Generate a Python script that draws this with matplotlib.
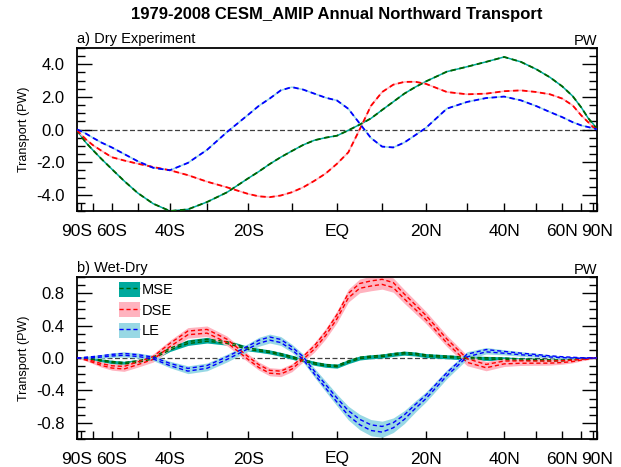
import numpy as np
import matplotlib
matplotlib.use('Agg')
import matplotlib.pyplot as plt
from matplotlib.patches import Patch
from matplotlib.lines import Line2D

plt.rcParams['font.family'] = ['Liberation Sans', 'DejaVu Sans']
plt.rcParams['axes.unicode_minus'] = False

# latitudes (deg)
lat = [-90, -85, -80, -75, -70, -65, -60, -55, -50, -45, -40, -35, -30, -25, -20,
       -17.5, -15, -12.5, -10, -7.5, -5, -2.5, 0, 2.5, 5, 7.5, 10, 12.5, 15, 17.5,
       20, 25, 30, 35, 40, 45, 50, 55, 60, 65, 70, 75, 80, 85, 90]

# a) Dry experiment (PW)
dry_mse = [0, -0.12, -0.4, -0.8, -1.25, -1.8, -2.43, -3.15, -3.9, -4.55, -5.0, -4.9, -4.45, -3.85, -3.0,
           -2.58, -2.12, -1.7, -1.32, -0.95, -0.66, -0.5, -0.38, -0.05, 0.3, 0.68, 1.2, 1.7, 2.2, 2.6,
           2.95, 3.55, 3.85, 4.15, 4.45, 4.15, 3.7, 3.2, 2.65, 2.05, 1.35, 0.7, 0.35, 0.1, 0]
dry_dse = [0, -0.1, -0.3, -0.6, -0.95, -1.3, -1.7, -1.9, -2.1, -2.3, -2.5, -2.8, -3.2, -3.55, -3.95,
           -4.1, -4.15, -4.05, -3.85, -3.55, -3.15, -2.7, -2.1, -1.4, 0.0, 1.45, 2.3, 2.75, 2.92, 2.93,
           2.8, 2.3, 2.16, 2.2, 2.35, 2.4, 2.3, 2.16, 1.9, 1.48, 0.86, 0.45, 0.15, 0.05, 0]
dry_le = [0, -0.02, -0.1, -0.25, -0.5, -0.8, -1.1, -1.5, -1.95, -2.35, -2.5, -2.05, -1.25, -0.15, 0.9,
          1.45, 1.9, 2.4, 2.6, 2.45, 2.2, 1.95, 1.78, 1.27, 0.37, -0.52, -1.05, -1.1, -0.8, -0.35,
          0.1, 1.28, 1.69, 1.93, 2.02, 1.79, 1.44, 1.07, 0.76, 0.45, 0.25, 0.15, 0.08, 0.03, 0]

# b) Wet-Dry (PW), centre and half-width of shading
wd_mse = [0, 0, 0, -0.005, -0.015, -0.03, -0.05, -0.065, -0.045, 0.0, 0.11, 0.19, 0.22, 0.19, 0.115,
          0.095, 0.075, 0.045, 0.01, -0.03, -0.065, -0.09, -0.1, -0.045, 0.0, 0.015, 0.025, 0.045, 0.06, 0.05,
          0.03, 0.015, 0.0, -0.005, -0.01, -0.02, -0.025, -0.03, -0.03, -0.02, -0.01, -0.005, 0, 0, 0]
wd_dse = [0, 0, -0.005, -0.02, -0.045, -0.08, -0.11, -0.12, -0.065, 0.0, 0.16, 0.31, 0.33, 0.21, 0.0,
          -0.1, -0.17, -0.18, -0.12, 0.0, 0.13, 0.3, 0.51, 0.77, 0.89, 0.92, 0.94, 0.9, 0.76, 0.63,
          0.5, 0.21, -0.03, -0.1, -0.055, -0.05, -0.05, -0.05, -0.045, -0.035, -0.02, -0.01, 0, 0, 0]
wd_le = [0, 0, 0, 0.005, 0.01, 0.02, 0.035, 0.045, 0.03, 0.0, -0.08, -0.145, -0.11, 0.0, 0.13,
         0.2, 0.24, 0.21, 0.12, 0.0, -0.18, -0.35, -0.52, -0.68, -0.79, -0.86, -0.88, -0.83, -0.73, -0.6,
         -0.48, -0.2, 0.03, 0.09, 0.07, 0.05, 0.035, 0.02, 0.01, 0.005, 0, 0, 0, 0, 0]
mse_sp = [0, 0.005, 0.008, 0.012, 0.015, 0.018, 0.022, 0.025, 0.028, 0.028, 0.03, 0.035, 0.035, 0.032, 0.028,
          0.025, 0.025, 0.025, 0.025, 0.025, 0.025, 0.025, 0.025, 0.025, 0.025, 0.025, 0.025, 0.025, 0.025, 0.025,
          0.025, 0.025, 0.025, 0.025, 0.025, 0.022, 0.022, 0.02, 0.018, 0.015, 0.012, 0.01, 0.006, 0.003, 0]
dse_sp = [0, 0.005, 0.01, 0.016, 0.024, 0.032, 0.04, 0.045, 0.048, 0.05, 0.058, 0.065, 0.065, 0.06, 0.05,
          0.05, 0.05, 0.05, 0.05, 0.05, 0.058, 0.065, 0.072, 0.08, 0.085, 0.09, 0.09, 0.088, 0.085, 0.08,
          0.075, 0.07, 0.065, 0.058, 0.05, 0.042, 0.04, 0.038, 0.032, 0.025, 0.016, 0.012, 0.008, 0.003, 0]
le_sp = [0, 0.005, 0.01, 0.016, 0.02, 0.024, 0.028, 0.032, 0.032, 0.032, 0.04, 0.048, 0.048, 0.048, 0.048,
         0.055, 0.055, 0.055, 0.05, 0.05, 0.055, 0.065, 0.072, 0.085, 0.095, 0.1, 0.1, 0.09, 0.08, 0.07,
         0.062, 0.055, 0.048, 0.04, 0.032, 0.028, 0.024, 0.02, 0.016, 0.012, 0.01, 0.006, 0.004, 0.002, 0]

xticks = list(range(-90, 91, 10))
xlabels = {-90: '90S', -60: '60S', -40: '40S', -20: '20S', 0: 'EQ',
           20: '20N', 40: '40N', 60: '60N', 90: '90N'}

colors = {'MSE': '#006400', 'DSE': '#ff0000', 'LE': '#0000ff'}
fills = {'MSE': '#00a99d', 'DSE': '#ffb3bf', 'LE': '#98d8e4'}
dash = (0, (3, 2))

lat = np.array(lat)


def fwd(x):
    return np.sin(np.deg2rad(x))


def inv(y):
    return np.rad2deg(np.arcsin(np.clip(y, -1, 1)))


def style_axes(ax, ylim, major, minor):
    ax.set_xscale('function', functions=(fwd, inv))
    ax.set_xlim(-90, 90)
    ax.set_ylim(*ylim)
    ax.set_xticks(xticks)
    ax.set_xticklabels([xlabels.get(t, '') for t in xticks])
    ax.set_xticks([], minor=True)
    ax.set_yticks(np.arange(-major * 2, major * 2 + 0.001, major))
    ax.set_yticks(np.arange(ylim[0], ylim[1] + 0.001, minor), minor=True)
    ax.yaxis.set_major_formatter(plt.FormatStrFormatter('%.1f'))
    ax.tick_params(axis='x', direction='in', length=6, width=1, labelsize=12.5, pad=9, top=False)
    ax.tick_params(axis='y', which='major', direction='in', length=11, width=1,
                   labelsize=12, pad=9, left=True, right=True)
    ax.tick_params(axis='y', which='minor', direction='in', length=6, width=1, left=True, right=True)
    for s in ax.spines.values():
        s.set_linewidth(1.3)
    ax.set_ylabel('Transport (PW)', fontsize=9, labelpad=4)
    ax.axhline(0, color='0.25', lw=0.9, ls=(0, (4, 2)), zorder=1)


fig = plt.figure(figsize=(6.21, 4.67), dpi=100)
ax1 = fig.add_axes([77 / 621, 1 - 211 / 467, 520 / 621, 163 / 467])
ax2 = fig.add_axes([77 / 621, 1 - 439 / 467, 520 / 621, 162 / 467])

fig.text(337 / 621, 1 - 15 / 467, '1979-2008 CESM_AMIP Annual Northward Transport',
         ha='center', va='center', fontsize=12, fontweight='bold')

# panel a
style_axes(ax1, (-5, 5), 2.0, 0.5)
for name, vals in [('MSE', dry_mse), ('DSE', dry_dse), ('LE', dry_le)]:
    ax1.plot(lat, vals, color=fills[name], lw=1.1, zorder=2)
    ax1.plot(lat, vals, color=colors[name], lw=1.3, ls=dash, zorder=3)
ax1.text(0, 1.01, 'a) Dry Experiment', transform=ax1.transAxes, ha='left', va='bottom', fontsize=10.5)
ax1.text(1, 1.0, 'PW', transform=ax1.transAxes, ha='right', va='bottom', fontsize=10.5)

# panel b
style_axes(ax2, (-1, 1), 0.4, 0.1)
handles = []
for name, vals, sp in [('MSE', wd_mse, mse_sp), ('DSE', wd_dse, dse_sp), ('LE', wd_le, le_sp)]:
    v = np.array(vals)
    s = np.array(sp)
    ax2.fill_between(lat, v - s, v + s, color=fills[name], lw=0, zorder=2)
    ax2.plot(lat, v - 0.35 * s, color=colors[name], lw=1.0, ls=dash, zorder=3)
    ax2.plot(lat, v + 0.35 * s, color=colors[name], lw=1.0, ls=dash, zorder=3)
    handles.append((Patch(facecolor=fills[name], edgecolor='none'),
                    Line2D([], [], color=colors[name], lw=1.0, ls=dash)))
ax2.legend(handles, ['MSE', 'DSE', 'LE'], loc='upper left', bbox_to_anchor=(0.08, 0.97),
           frameon=False, fontsize=10.5, handlelength=1.5, handleheight=1.2,
           handletextpad=0.1, labelspacing=0.35, borderpad=0, borderaxespad=0)
ax2.text(0, 1.01, 'b) Wet-Dry', transform=ax2.transAxes, ha='left', va='bottom', fontsize=10.5)
ax2.text(1, 1.0, 'PW', transform=ax2.transAxes, ha='right', va='bottom', fontsize=10.5)

fig.savefig('out.png', dpi=100)
